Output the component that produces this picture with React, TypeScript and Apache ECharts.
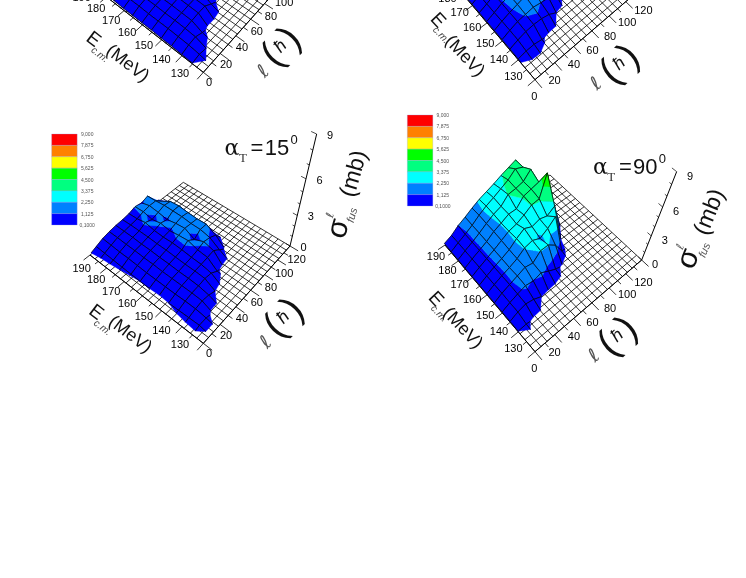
import React, { useEffect, useRef } from "react";
import * as echarts from "echarts";

const energyLines = [130, 135, 140, 145, 150, 155, 160, 165, 170, 175, 180, 185, 190];
const spinLines = [0, 8, 16, 24, 32, 40, 48, 56, 64, 72, 80, 88];

const sigmaTopLeft = [
  [0,0,0,0,0,0,0,0,0,0,0,0],
  [.1,.25,.1,0,0,0,0,0,0,0,0,0],
  [.15,.4,.5,.2,0,0,0,0,0,0,0,0],
  [.2,.45,.6,.7,.8,.85,.4,0,0,0,0,0],
  [.2,.5,.65,.75,.85,.9,.95,1,.8,.3,0,0],
  [.25,.5,.65,.8,.9,.95,1,1.05,1.1,.9,.3,0],
  [.25,.5,.7,.8,.9,1,1.05,1.1,1.1,1.05,.9,.2],
  [.25,.55,.7,.85,.95,1,1.1,1.1,1.2,1.5,1.1,.3],
  [.25,.55,.7,.85,.95,1.05,1.1,1.15,1.5,1.6,1.4,.4],
  [.3,.55,.75,.85,1,1.05,1.1,1.5,1.6,1.7,1.5,.4],
  [.3,.6,.75,.9,1,1.05,1.3,1.2,1.6,1.7,1.5,.4],
  [.3,.6,.75,.9,1,1.1,1.15,1.3,1.5,1.6,1.5,.4],
  [.3,.6,.8,.9,1,1.1,1.2,1.3,1.4,1.6,1.5,.3],
];

const sigmaTopRight = [
  [0,0,0,0,0,0,0,0,0,0,0,0],
  [0,0,0,0,0,0,0,0,0,0,0,0],
  [.15,.35,.4,.15,0,0,0,0,0,0,0,0],
  [.2,.6,.9,1,.95,.7,.1,0,0,0,0,0],
  [.2,.65,1,1.15,1.3,1.1,1,.6,0,0,0,0],
  [.2,.65,1,1.3,1.6,1.7,1.8,1.4,.8,.1,0,0],
  [.2,.6,1.05,1.35,1.7,1.9,2,2,1.6,1,.2,0],
  [.2,.6,1.05,1.4,1.75,2,2.2,2.3,2.2,1.6,.5,0],
  [.2,.6,1,1.4,1.8,2.1,2.2,2.4,2.8,2.6,1.6,0],
  [.2,.6,1,1.4,1.85,2.2,2.5,2.6,3,3.3,2.8,.3],
  [.2,.6,1,1.45,1.95,2.4,2.6,3,3.2,3.5,3.4,.5],
  [.2,.6,1,1.45,2,2.45,2.8,3.1,3.5,3.7,3.6,.6],
  [.2,.55,1.1,1.5,1.95,2.35,2.65,2.95,3.3,3.7,3.8,.4],
];

const sigmaAlpha15 = [
  [0,0,0,0,0,0,0,0,0,0,0,0],
  [0,.25,.25,0,0,0,0,0,0,0,0,0],
  [0,.2,.4,.5,.4,.1,0,0,0,0,0,0],
  [0,.15,.4,.55,.6,.7,.6,.15,0,0,0,0],
  [0,.1,.35,.55,.65,.75,.8,.9,1,.5,0,0],
  [0,.08,.35,.55,.65,.75,.85,1,1.25,1.1,.8,0],
  [0,.1,.35,.55,.7,.8,.95,1.3,.85,1.3,1.3,.1],
  [0,.1,.35,.6,.7,.85,1,1.2,1.35,1.3,1.25,.1],
  [0,.12,.4,.6,.75,.85,.95,1.05,1.25,1.4,1.3,.3],
  [0,.15,.45,.65,.75,.9,1,1.2,1.05,1.4,1.4,.4],
  [0,.2,.45,.65,.8,.9,1.2,1,1.2,1.4,1.3,.2],
  [0,.25,.5,.7,.8,.9,1,1.2,1.3,1.3,.8,0],
  [.05,.3,.55,.7,.8,.85,.95,1.15,1.05,1.25,.3,0],
];

const sigmaAlpha90 = [
  [0,0,0,0,0,0,0,0,0,0,0,0],
  [0,0,0,0,0,0,0,0,0,0,0,0],
  [.1,.2,0,0,0,0,0,0,0,0,0,0],
  [.15,.6,.85,.6,.1,0,0,0,0,0,0,0],
  [.15,.6,.95,1.25,1.05,1.35,.8,.3,0,0,0,0],
  [.15,.65,1,1.35,1.7,1.5,2.3,2.3,1.6,.2,0,0],
  [.15,.6,1,1.3,1.7,2.3,2.5,2.1,2.6,3.3,.1,0],
  [.15,.6,1,1.35,1.75,2.4,2.9,2.5,2.75,2.5,3,.1],
  [.15,.6,1,1.4,1.85,2.3,2.5,2.9,3.4,3.5,5.5,.4],
  [.15,.6,1,1.4,1.95,2.3,2.7,2.7,3.5,3.7,3.9,.6],
  [.15,.6,1,1.45,1.95,2.4,2.7,3.4,3.5,3.7,4.4,.8],
  [.15,.6,1,1.45,2,2.45,2.8,3.2,3.6,4.2,3.9,.5],
  [.2,.55,1.1,1.5,1.95,2.35,2.65,2.95,3.3,3.6,3.9,.3],
];

const bandLevels = [0.1, 1.125, 2.25, 3.375, 4.5, 5.625, 6.75, 7.875, 9];
const bandColors = ["#0000ff", "#0080ff", "#00ffff", "#00ff80", "#00ff00", "#ffff00", "#ff8000", "#ff0000"];
const legendLabels = ["9,000", "7,875", "6,750", "5,625", "4,500", "3,375", "2,250", "1,125", "0,1000"];
const energyTicks = [130, 140, 150, 160, 170, 180, 190];
const spinTicks = [0, 20, 40, 60, 80, 100, 120];
const sigmaTicks = [0, 3, 6, 9];
const FONT = '"Liberation Sans", Arial, sans-serif';

type P = [number, number];
const zo = (zx: number, zy: number, ox: number, oy: number, dy = 0): P => [zx / 3 + ox, zy / 3 + oy + dy];

function makeProjector(F: P, E: P, B: P, L: P, Z: P, a: number) {
  const dx1 = E[0] - B[0], dx2 = L[0] - B[0], sx = F[0] - E[0] + B[0] - L[0];
  const dy1 = E[1] - B[1], dy2 = L[1] - B[1], sy = F[1] - E[1] + B[1] - L[1];
  const det = dx1 * dy2 - dx2 * dy1;
  const g = (sx * dy2 - dx2 * sy) / det, h = (dx1 * sy - sx * dy1) / det;
  const A = E[0] - F[0] + g * E[0], Bb = L[0] - F[0] + h * L[0], C = F[0];
  const D = E[1] - F[1] + g * E[1], Ee = L[1] - F[1] + h * L[1], Ff = F[1];
  const vx = (L[0] - Z[0] * (1 - a)) / a, vy = (L[1] - Z[1] * (1 - a)) / a;
  const cw = (-a * (h + 1)) / 9;
  return (u: number, v: number, z: number): P => {
    const w = g * u + h * v + 1 + z * cw;
    return [(A * u + Bb * v + C + z * cw * vx) / w, (Ee * v + D * u + Ff + z * cw * vy) / w];
  };
}

function panelConfig(kind: 15 | 90, dy: number, dxT = 0, dyT = 0) {
  if (kind === 15) {
    const o = (x: number, y: number) => zo(x, y, 40, 120, dy);
    return {
      proj: makeProjector(o(490, 670), o(150, 405), o(430, 187), o(750, 378), o(830, 42), 0.25),
      F: o(490, 670), E: o(150, 405), L: o(750, 378),
      e0: o(420, 672), e1: o(125, 445), l0: o(507, 698), l1: o(770, 418), zOff: [13.5, 1] as P,
      eT: { rot: 37.5, E: o(170 + dxT, 575 + dyT), cm: o(188 + dxT, 622 + dyT), mev: o(272 + dxT, 642) },
      lT: { rot: 46, ell: o(675 + dxT, 665), par: o(728 + dxT, 590) },
      sT: { rot: 74, s: o(890, 325), ell: o(870, 285), fus: o(935, 285), mb: o(938, 160) },
      leg: o(35, 42), alpha: o(555, 85),
    };
  }
  const o = (x: number, y: number) => zo(x, y, 400, 105, dy);
  return {
    proj: makeProjector(o(405, 740), o(135, 420), o(450, 210), o(725, 465), o(830, 200), 0.25),
    F: o(405, 740), E: o(135, 420), L: o(725, 465),
    e0: o(340, 730), e1: o(108, 453), l0: o(403, 788), l1: o(730, 530), zOff: [13.5, 4] as P,
    eT: { rot: 47, E: o(110 + dxT, 580 + dyT), cm: o(118 + dxT, 625 + dyT), mev: o(190 + dxT, 668) },
    lT: { rot: 42, ell: o(580 + dxT, 750), par: o(650 + dxT, 690) },
    sT: { rot: 68, s: o(860, 460), ell: o(840, 425), fus: o(912, 435), mb: o(925, 320) },
    leg: o(22, 30), alpha: o(580, 188),
  };
}

const panels = [
  { cfg: panelConfig(15, -271, -8, -6), values: sigmaTopLeft, label: "" },
  { cfg: panelConfig(90, -272, 6, -20), values: sigmaTopRight, label: "" },
  { cfg: panelConfig(15, 0), values: sigmaAlpha15, label: "15" },
  { cfg: panelConfig(90, 0), values: sigmaAlpha90, label: "90" },
];

type V = [number, number, number];
function clip(poly: V[], level: number, keepAbove: boolean): V[] {
  const out: V[] = [];
  const inside = (p: V) => (keepAbove ? p[2] >= level : p[2] <= level);
  for (let i = 0; i < poly.length; i++) {
    const a = poly[i], b = poly[(i + 1) % poly.length];
    if (inside(a)) out.push(a);
    if (inside(a) !== inside(b)) {
      const t = (level - a[2]) / (b[2] - a[2]);
      out.push([a[0] + (b[0] - a[0]) * t, a[1] + (b[1] - a[1]) * t, level]);
    }
  }
  return out;
}

function uvOf(api: any, params: any, E: number, l: number): P {
  const c = api.coord([E, l]);
  const cs = params.coordSys;
  return [(c[0] - cs.x) / cs.width, 1 - (c[1] - cs.y) / cs.height];
}

function surfaceSeries(panel: any, gridIndex: number) {
  const data: number[][] = [];
  for (let i = energyLines.length - 2; i >= 0; i--) {
    for (let j = spinLines.length - 2; j >= 0; j--) {
      const r0 = panel.values[i], r1 = panel.values[i + 1];
      data.push([energyLines[i], spinLines[j], energyLines[i + 1], spinLines[j + 1], r0[j], r1[j], r1[j + 1], r0[j + 1]]);
    }
  }
  return {
    type: "custom", coordinateSystem: "cartesian2d", xAxisIndex: gridIndex, yAxisIndex: gridIndex,
    silent: true, progressive: 0, z: 3, encode: { x: 0, y: 1 }, data,
    renderItem(params: any, api: any) {
      const [e0, l0, e1, l1, z00, z10, z11, z01] = [0, 1, 2, 3, 4, 5, 6, 7].map((k) => api.value(k));
      if (Math.max(z00, z10, z11, z01) < bandLevels[0]) return { type: "group", children: [] };
      const a = uvOf(api, params, e0, l0), b = uvOf(api, params, e1, l1);
      const quad: V[] = [[a[0], a[1], z00], [b[0], a[1], z10], [b[0], b[1], z11], [a[0], b[1], z01]];
      const children: any[] = [];
      const pr = (p: V) => panel.cfg.proj(p[0], p[1], p[2]);
      for (let k = 0; k < bandColors.length; k++) {
        let poly = clip(quad, bandLevels[k], true);
        if (poly.length >= 3) poly = clip(poly, bandLevels[k + 1], false);
        if (poly.length >= 3) {
          children.push({ type: "polygon", shape: { points: poly.map(pr) }, style: { fill: bandColors[k], stroke: bandColors[k], lineWidth: 0.4 } });
        }
      }
      for (let k = 0; k < 4; k++) {
        const p = quad[k], q = quad[(k + 1) % 4];
        const inP = p[2] >= bandLevels[0], inQ = q[2] >= bandLevels[0];
        if (!inP && !inQ) continue;
        let s = p, t = q;
        if (inP !== inQ) {
          const f = (bandLevels[0] - p[2]) / (q[2] - p[2]);
          const m: V = [p[0] + (q[0] - p[0]) * f, p[1] + (q[1] - p[1]) * f, bandLevels[0]];
          if (inP) t = m; else s = m;
        }
        const S = pr(s), T = pr(t);
        children.push({ type: "line", shape: { x1: S[0], y1: S[1], x2: T[0], y2: T[1] }, style: { stroke: "#000", lineWidth: 0.7 } });
      }
      return { type: "group", children };
    },
  };
}

function axesSeries(panel: any, gridIndex: number) {
  return {
    type: "custom", coordinateSystem: "cartesian2d", xAxisIndex: gridIndex, yAxisIndex: gridIndex,
    silent: true, z: 2, encode: { x: 0, y: 1 }, data: [[130, 0]],
    renderItem(params: any, api: any) {
      const c = panel.cfg;
      const at = (E: number, l: number, z = 0) => {
        const uv = uvOf(api, params, E, l);
        return c.proj(uv[0], uv[1], z) as P;
      };
      const ch: any[] = [];
      const line = (p: P, q: P, w: number, col = "#000") =>
        ch.push({ type: "line", shape: { x1: p[0], y1: p[1], x2: q[0], y2: q[1] }, style: { stroke: col, lineWidth: w } });
      ch.push({ type: "polygon", shape: { points: [at(130, 0), at(190, 0), at(190, 120), at(130, 120)] }, style: { fill: "#fff" } });
      for (let e = 130; e <= 190; e += 3) line(at(e, 0), at(e, 120), 0.8);
      for (let l = 0; l <= 120; l += 6) line(at(130, l), at(190, l), 0.8);
      line(at(130, 0), at(190, 0), 1);
      line(at(130, 0), at(130, 120), 1);
      for (let e = 130; e <= 190; e += 5) line(at(e, 0), at(e, e % 10 === 0 ? -7 : -3.5), 0.8);
      for (let l = 0; l <= 120; l += 10) line(at(130, l), at(l % 20 === 0 ? 126 : 128, l), 0.8);
      line(at(130, 120, 0), at(130, 120, 9), 1);
      for (let z = 0; z <= 9; z += 1) line(at(130, 120, z), at(z % 3 === 0 ? 132 : 131, 120, z), 0.7);
      const txt = (t: string, p: P) =>
        ch.push({ type: "text", style: { text: t, x: p[0], y: p[1], font: `11px ${FONT}`, fill: "#000", align: "center", verticalAlign: "middle" } });
      const visible = (p: P) => p[1] > -6;
      energyTicks.forEach((e) => {
        const s = (at(e, 0)[0] - c.F[0]) / (c.E[0] - c.F[0]);
        const p: P = [c.e0[0] + (c.e1[0] - c.e0[0]) * s, c.e0[1] + (c.e1[1] - c.e0[1]) * s];
        if (visible(p)) txt(String(e), p);
      });
      spinTicks.forEach((l) => {
        const s = (at(130, l)[0] - c.F[0]) / (c.L[0] - c.F[0]);
        const p: P = [c.l0[0] + (c.l1[0] - c.l0[0]) * s, c.l0[1] + (c.l1[1] - c.l0[1]) * s];
        if (visible(p)) txt(String(l), p);
      });
      sigmaTicks.forEach((z) => {
        const b = at(130, 120, z);
        const p: P = [b[0] + c.zOff[0], b[1] + c.zOff[1]];
        if (visible(p)) txt(String(z), p);
      });
      return { type: "group", children: ch };
    },
  };
}

const deg = (d: number) => (d * Math.PI) / 180;
function label(text: string, p: P, size: number, rot = 0, extra: any = {}) {
  return {
    type: "text", x: p[0], y: p[1], rotation: deg(rot), silent: true, z: 10,
    style: { text, font: `${extra.style || ""} ${size}px ${extra.family || FONT}`, fill: extra.fill || "#111", align: "center", verticalAlign: "middle" },
  };
}

function titlesFor(panel: any) {
  const c = panel.cfg;
  const out: any[] = [];
  const vis = (p: P) => p[1] > -14;
  const add = (t: string, p: P, size: number, rot: number, extra: any = {}) => { if (vis(p)) out.push(label(t, p, size, rot, extra)); };
  add("E", c.eT.E, 19, -c.eT.rot);
  add("c.m.", c.eT.cm, 10, -c.eT.rot, { style: "italic", fill: "#444" });
  add("(MeV)", c.eT.mev, 18, -c.eT.rot);
  add("ℓ", c.lT.ell, 19, c.lT.rot, { style: "italic", fill: "#555", family: '"DejaVu Sans"' });
  const cs = Math.cos(deg(c.lT.rot)), sn = Math.sin(deg(c.lT.rot));
  add("(", [c.lT.par[0] - 13 * cs, c.lT.par[1] + 13 * sn], 38, c.lT.rot);
  add("ħ", c.lT.par, 18, c.lT.rot, { style: "italic" });
  add(")", [c.lT.par[0] + 13 * cs, c.lT.par[1] - 13 * sn], 38, c.lT.rot);
  add("σ", c.sT.s, 30, c.sT.rot);
  add("ℓ", c.sT.ell, 11, c.sT.rot, { style: "italic", fill: "#555", family: '"DejaVu Sans"' });
  add("fus", c.sT.fus, 11, c.sT.rot, { style: "italic", fill: "#555" });
  add("(mb)", c.sT.mb, 23, c.sT.rot);
  if (panel.label) {
    const a = c.alpha as P;
    out.push(label("α", [a[0] + 7, a[1] - 1], 22, 0, { family: '"DejaVu Serif"' }));
    out.push(label("T", [a[0] + 18, a[1] + 9], 13, 0, { family: '"Liberation Serif"', fill: "#333" }));
    out.push(label("=", [a[0] + 32, a[1] - 1], 22, 0));
    out.push(label(panel.label, [a[0] + 52, a[1] - 1], 22, 0));
    out.push(label("0", [a[0] + 69, a[1] - 9], 13, 0));
    const lg = c.leg as P;
    const h = 91 / bandColors.length;
    bandColors.slice().reverse().forEach((col: string, i: number) => {
      out.push({ type: "rect", silent: true, z: 10, shape: { x: lg[0], y: lg[1] + i * h, width: 25.5, height: h }, style: { fill: col, stroke: "#9a9ad8", lineWidth: 0.3 } });
    });
    legendLabels.forEach((t: string, i: number) => {
      out.push(label(t, [lg[0] + 27.5 + 8, lg[1] + i * h], 5, 0, { fill: "#555" }));
    });
  }
  return out;
}

export default function App() {
  const ref = useRef<HTMLDivElement>(null);
  useEffect(() => {
    const chart = echarts.init(ref.current!, undefined, { renderer: "svg" });
    const grids = panels.map(() => ({ left: 10, top: 10, width: 100, height: 100, show: false }));
    const axis = (min: number, max: number, gridIndex: number) => ({ type: "value", min, max, gridIndex, show: false });
    chart.setOption({
      animation: false,
      backgroundColor: "#fff",
      grid: grids,
      xAxis: panels.map((_, i) => axis(130, 190, i)),
      yAxis: panels.map((_, i) => axis(0, 120, i)),
      series: panels.flatMap((p, i) => [axesSeries(p, i), surfaceSeries(p, i)]),
      graphic: { elements: panels.flatMap(titlesFor) },
    });
    return () => chart.dispose();
  }, []);
  return <div ref={ref} style={{ position: "absolute", left: 0, top: 0, width: 746, height: 578, filter: "blur(0.3px)" }} />;
}
